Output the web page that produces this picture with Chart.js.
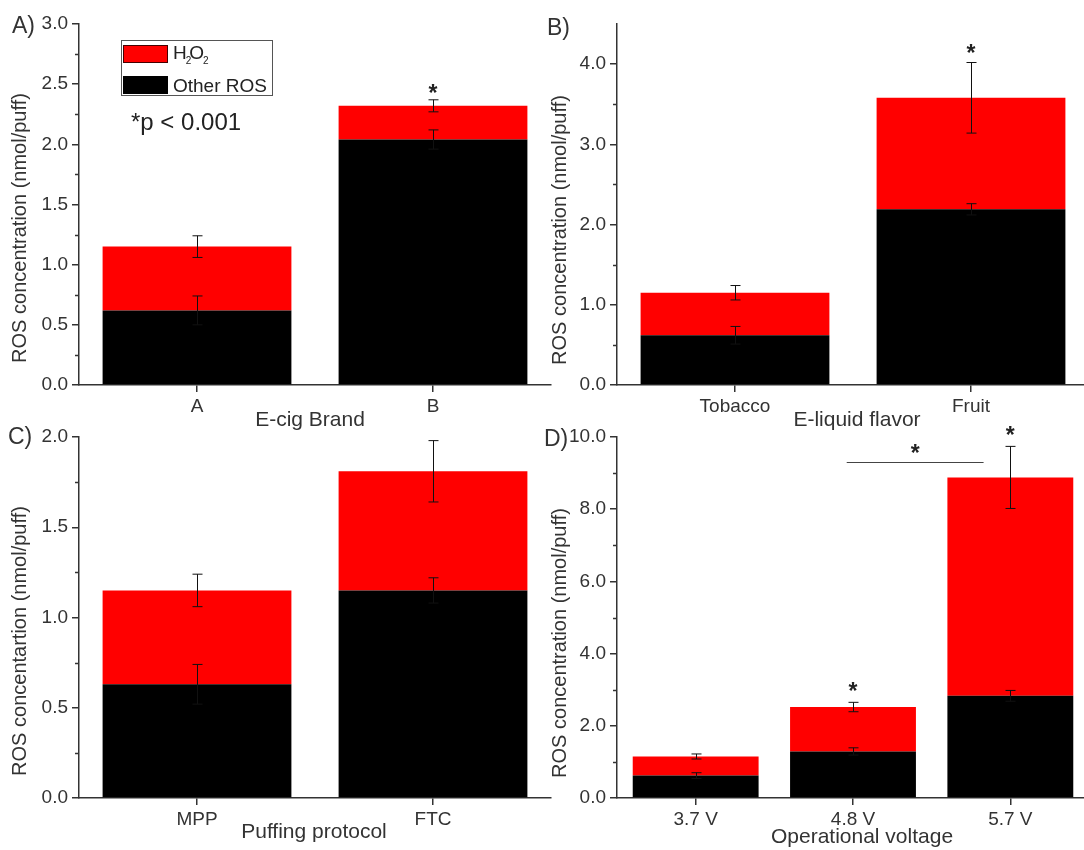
<!DOCTYPE html>
<html><head><meta charset="utf-8">
<script src="https://cdn.jsdelivr.net/npm/chart.js@4.4.1/dist/chart.umd.min.js"></script>
<style>
html,body{margin:0;padding:0;background:#fff;overflow:hidden;width:1084px;height:850px;}
canvas{position:absolute;left:0;top:0;}
</style></head><body>
<canvas id="cA" width="1100" height="850"></canvas>
<canvas id="cB" width="1100" height="850"></canvas>
<canvas id="cC" width="1100" height="850"></canvas>
<canvas id="cD" width="1100" height="850"></canvas>
<script>
// ---------- DATA ----------
const seriesNames = ['Other ROS', 'H2O2'];

// Panel A: E-cig brand
const catA = ['A', 'B'];
const otherA = [0.62, 2.04];
const h2o2A = [0.53, 0.28];
const errOtherA = [0.12, 0.08];
const errTotalA = [0.09, 0.05];
const starsA = [null, 2.47];
const yTicksA = [0, 0.5, 1.0, 1.5, 2.0, 2.5, 3.0];
const yMinorA = [0.25, 0.75, 1.25, 1.75, 2.25, 2.75];

// Panel B: E-liquid flavor
const catB = ['Tobacco', 'Fruit'];
const otherB = [0.62, 2.19];
const h2o2B = [0.53, 1.39];
const errOtherB = [0.11, 0.07];
const errTotalB = [0.09, 0.44];
const starsB = [null, 4.21];
const yTicksB = [0, 1.0, 2.0, 3.0, 4.0];
const yMinorB = [0.5, 1.5, 2.5, 3.5];

// Panel C: puffing protocol
const catC = ['MPP', 'FTC'];
const otherC = [0.63, 1.15];
const h2o2C = [0.52, 0.66];
const errOtherC = [0.11, 0.07];
const errTotalC = [0.09, 0.17];
const starsC = [null, null];
const yTicksC = [0, 0.5, 1.0, 1.5, 2.0];
const yMinorC = [0.25, 0.75, 1.25, 1.75];

// Panel D: operational voltage
const catD = ['3.7 V', '4.8 V', '5.7 V'];
const otherD = [0.62, 1.29, 2.83];
const h2o2D = [0.53, 1.23, 6.05];
const errOtherD = [0.08, 0.10, 0.15];
const errTotalD = [0.07, 0.13, 0.86];
const starsD = [null, 3.10, 10.19];
const yTicksD = [0, 2.0, 4.0, 6.0, 8.0, 10.0];
const yMinorD = [1, 3, 5, 7, 9];
// significance bracket: from category index, to category index, line value, star value
const bracketD = [0.96, 1.83, 9.31, 9.70];

// ---------- STYLE ----------
const FONT = '"Liberation Sans", Arial, sans-serif';
const AX = '#333';
const RED = '#ff0000';
const BLK = '#000000';

function drawH2O2(ctx, x, yBase, size) {
  ctx.textAlign = 'left';
  ctx.textBaseline = 'alphabetic';
  const sub = Math.round(size * 0.55);
  ctx.font = size + 'px ' + FONT;
  ctx.fillText('H', x, yBase);
  let w = ctx.measureText('H').width;
  ctx.font = sub + 'px ' + FONT;
  ctx.fillText('2', x + w - 1, yBase + 5);
  let w2 = ctx.measureText('2').width;
  ctx.font = size + 'px ' + FONT;
  const xo = x + w + w2 * 0.45;
  ctx.fillText('O', xo, yBase);
  const wo = ctx.measureText('O').width;
  ctx.font = sub + 'px ' + FONT;
  ctx.fillText('2', xo + wo - 1, yBase + 5);
}

function makePanel(id, p) {
  const CW = 1100, CH = 850, YW = 70, XH = 45;
  const plugin = {
    id: 'deco' + id,
    afterDatasetsDraw(chart) {
      const ctx = chart.ctx;
      const ys = chart.scales.y;
      const meta = chart.getDatasetMeta(0);
      ctx.save();
      ctx.strokeStyle = '#111';
      ctx.lineWidth = 1;
      const drawErr = (x, v, e) => {
        const y1 = ys.getPixelForValue(v + e), y2 = ys.getPixelForValue(v - e);
        ctx.beginPath();
        ctx.moveTo(x, y1); ctx.lineTo(x, y2);
        ctx.moveTo(x - 5, y1); ctx.lineTo(x + 5, y1);
        ctx.moveTo(x - 5, y2); ctx.lineTo(x + 5, y2);
        ctx.stroke();
      };
      p.cats.forEach((c, i) => {
        const x = Math.round(meta.data[i].x) + 0.5;
        drawErr(x, p.other[i], p.errOther[i]);
        drawErr(x, p.other[i] + p.h2o2[i], p.errTotal[i]);
      });
      ctx.restore();
    },
    afterDraw(chart) {
      const ctx = chart.ctx;
      const ys = chart.scales.y;
      const area = chart.chartArea;
      const meta = chart.getDatasetMeta(0);
      ctx.save();
      // minor ticks
      ctx.strokeStyle = AX; ctx.lineWidth = 1.5;
      p.minor.forEach(v => {
        const y = Math.round(ys.getPixelForValue(v)) + 0.5;
        ctx.beginPath(); ctx.moveTo(area.left - 4, y); ctx.lineTo(area.left, y); ctx.stroke();
      });
      ctx.fillStyle = AX;
      // panel label
      ctx.font = '23px ' + FONT; ctx.textAlign = 'left'; ctx.textBaseline = 'alphabetic';
      ctx.fillText(p.label, p.labelPos[0], p.labelPos[1]);
      // x title
      ctx.font = '21px ' + FONT; ctx.textAlign = 'center';
      ctx.fillText(p.xTitle, p.xTitlePos[0], p.xTitlePos[1]);
      // y title
      ctx.save();
      ctx.translate(p.yTitlePos[0], p.yTitlePos[1]);
      ctx.rotate(-Math.PI / 2);
      ctx.font = '20px ' + FONT; ctx.textAlign = 'center'; ctx.textBaseline = 'middle';
      ctx.fillText(p.yTitle, 0, 0);
      ctx.restore();
      // stars
      ctx.fillStyle = '#222';
      const star = (x, v) => {
        ctx.font = 'bold 23px ' + FONT; ctx.textAlign = 'center'; ctx.textBaseline = 'alphabetic';
        ctx.fillText('*', x, ys.getPixelForValue(v) + 23 * 0.58);
      };
      p.stars.forEach((v, i) => { if (v != null) star(meta.data[i].x, v); });
      if (p.bracket) {
        const px = t => { const i0 = Math.floor(t), f = t - i0; const a = meta.data[i0].x; const b = meta.data[Math.min(i0 + 1, meta.data.length - 1)].x; return a + (b - a) * f; };
        const x1 = px(p.bracket[0]), x2 = px(p.bracket[1]);
        const y = Math.round(ys.getPixelForValue(p.bracket[2])) + 0.5;
        ctx.strokeStyle = '#444'; ctx.lineWidth = 1;
        ctx.beginPath(); ctx.moveTo(x1, y); ctx.lineTo(x2, y); ctx.stroke();
        star((x1 + x2) / 2, p.bracket[3]);
      }
      // legend + p-value (panel A only)
      if (p.legend) {
        const ds = chart.data.datasets;
        ctx.strokeStyle = '#555'; ctx.lineWidth = 1;
        ctx.strokeRect(121.5, 40.5, 151, 55);
        // H2O2 entry (dataset 1)
        ctx.fillStyle = ds[1].backgroundColor; ctx.fillRect(123, 45, 45, 18);
        ctx.strokeStyle = '#400'; ctx.strokeRect(123.5, 45.5, 44, 17);
        ctx.fillStyle = '#222'; drawH2O2(ctx, 173, 59, 19);
        // Other ROS entry (dataset 0)
        ctx.fillStyle = ds[0].backgroundColor; ctx.fillRect(123, 76, 45, 18);
        ctx.fillStyle = '#222';
        ctx.font = '19px ' + FONT; ctx.textAlign = 'left'; ctx.textBaseline = 'alphabetic';
        ctx.fillText(ds[0].label, 173, 92);
        ctx.font = '24px ' + FONT;
        ctx.fillText('*p < 0.001', 131, 130);
      }
      ctx.restore();
    }
  };
  new Chart(document.getElementById(id), {
    type: 'bar',
    data: {
      labels: p.cats,
      datasets: [
        { label: seriesNames[0], data: p.other, backgroundColor: BLK, borderWidth: 0 },
        { label: seriesNames[1], data: p.h2o2, backgroundColor: RED, borderWidth: 0 }
      ]
    },
    options: {
      responsive: false,
      animation: false,
      events: [],
      layout: { padding: { left: p.L - YW, right: CW - p.R, top: p.T, bottom: CH - p.B - XH } },
      plugins: { legend: { display: false }, tooltip: { enabled: false }, title: { display: false } },
      datasets: { bar: { categoryPercentage: 1.0, barPercentage: 0.8 } },
      scales: {
        x: {
          stacked: true,
          offset: true,
          afterFit(s) { s.height = XH; },
          grid: { display: true, drawOnChartArea: false, offset: false, tickLength: 7, color: AX, lineWidth: 1.5 },
          border: { display: true, color: AX, width: 1.5 },
          ticks: { color: AX, font: { family: FONT, size: 19 }, padding: 3, maxRotation: 0, autoSkip: false }
        },
        y: {
          stacked: true,
          min: 0, max: p.yMax,
          afterFit(s) { s.width = YW; },
          afterBuildTicks(s) { s.ticks = p.ticks.map(v => ({ value: v })); },
          grid: { display: true, drawOnChartArea: false, tickLength: 7, color: AX, lineWidth: 1.5 },
          border: { display: true, color: AX, width: 1.5 },
          ticks: { color: AX, font: { family: FONT, size: 19 }, padding: 4, callback: v => Number(v).toFixed(1) }
        }
      }
    },
    plugins: [plugin]
  });
}

makePanel('cA', { cats: catA, other: otherA, h2o2: h2o2A, errOther: errOtherA, errTotal: errTotalA, stars: starsA,
  ticks: yTicksA, minor: yMinorA, yMax: 3.0, L: 79, R: 551, T: 24, B: 385,
  label: 'A)', labelPos: [12, 33], xTitle: 'E-cig Brand', xTitlePos: [310, 426],
  yTitle: 'ROS concentration (nmol/puff)', yTitlePos: [20, 228], legend: true });

makePanel('cB', { cats: catB, other: otherB, h2o2: h2o2B, errOther: errOtherB, errTotal: errTotalB, stars: starsB,
  ticks: yTicksB, minor: yMinorB, yMax: 4.5, L: 617, R: 1089, T: 24, B: 385,
  label: 'B)', labelPos: [547, 35], xTitle: 'E-liquid flavor', xTitlePos: [857, 426],
  yTitle: 'ROS concentration (nmol/puff)', yTitlePos: [560, 230] });

makePanel('cC', { cats: catC, other: otherC, h2o2: h2o2C, errOther: errOtherC, errTotal: errTotalC, stars: starsC,
  ticks: yTicksC, minor: yMinorC, yMax: 2.0, L: 79, R: 551, T: 437, B: 798,
  label: 'C)', labelPos: [8, 444], xTitle: 'Puffing protocol', xTitlePos: [314, 838],
  yTitle: 'ROS concentartion (nmol/puff)', yTitlePos: [20, 641] });

makePanel('cD', { cats: catD, other: otherD, h2o2: h2o2D, errOther: errOtherD, errTotal: errTotalD, stars: starsD,
  ticks: yTicksD, minor: yMinorD, yMax: 10.0, L: 617, R: 1089, T: 437, B: 798, bracket: bracketD,
  label: 'D)', labelPos: [544, 446], xTitle: 'Operational voltage', xTitlePos: [862, 843],
  yTitle: 'ROS concentration (nmol/puff)', yTitlePos: [560, 643] });
</script>
</body></html>
